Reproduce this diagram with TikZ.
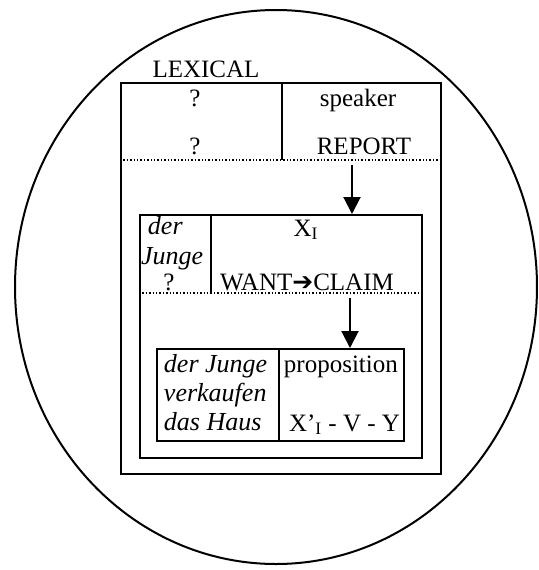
\documentclass[tikz,border=0pt]{standalone}
\usepackage{fontspec}
\setmainfont{Liberation Serif}
\newfontfamily\arrowfont{DejaVu Sans}
\usetikzlibrary{arrows.meta, positioning}

\begin{document}
\begin{tikzpicture}[x=0.5pt, y=-0.5pt, line width=1pt,
    >={Triangle[length=8.5pt, width=8.5pt]},
    txt/.style={inner sep=0pt, anchor=base, font=\fontsize{12.5}{15}\selectfont},
    word/.style={txt, anchor=base west, font=\fontsize{13}{15}\itshape},
    frame/.style={draw, inner sep=0pt, anchor=north west},
    sep/.style={densely dotted, line width=0.7pt}]
    \useasboundingbox (0,0) rectangle (538,570);

    % Ring
    \draw (276,287) ellipse [x radius=261, y radius=277];

    % Boxes
    \node[frame, minimum width=160pt, minimum height=195.5pt] (lexbox) at (120,82) {};
    \node[frame, minimum width=141pt, minimum height=121.5pt] (wantbox) at (139,214) {};
    \node[frame, minimum width=123.5pt, minimum height=46pt] (propbox) at (156,348) {};

    \coordinate (d1) at (282,160);
    \coordinate (d2) at (211,293);
    \coordinate (d3) at (279,0);
    \draw (d1 |- lexbox.north) -- (d1);
    \draw[sep] (lexbox.west |- d1) -- (lexbox.east |- d1);
    \draw (d2 |- wantbox.north) -- (d2);
    \draw[sep] (wantbox.west |- d2) -- (wantbox.east |- d2);
    \draw (d3 |- propbox.north) -- (d3 |- propbox.south);

    % Texts
    \node[txt] (lexical) at (206,77) {LEXICAL};
    \node[txt] (q1) at (195,106) {?};
    \node[txt] (q2) at (195,154) {?};
    \node[txt] (speaker) at (358,106) {speaker};
    \node[txt] (report) at (364,154) {REPORT};

    \node[word] (der) at (147,234) {der};
    \node[word] (junge) at (140,264) {Junge};
    \node[txt] (q3) at (169,290) {?};
    \node[txt] (xi) at (306,236) {X\textsubscript{I}};
    \node[txt] (want) at (307,290) {WANT{\arrowfont ➔}CLAIM};

    \node[word] (derjunge) at (163,372) {der Junge};
    \node[word] (verkaufen) at (163,401) {verkaufen};
    \node[word] (haus) at (163,430) {das Haus};
    \node[txt, anchor=base west] (prop) at (283,372) {proposition};
    \node[txt, anchor=base east] (xvy) at (401,431) {X’\textsubscript{I} - V - Y};

    % Arrows
    \coordinate (a1) at (352,165);
    \coordinate (a2) at (350,298);
    \draw[->] (a1) -- (a1 |- wantbox.north);
    \draw[->] (a2) -- (a2 |- propbox.north);
\end{tikzpicture}
\end{document}
